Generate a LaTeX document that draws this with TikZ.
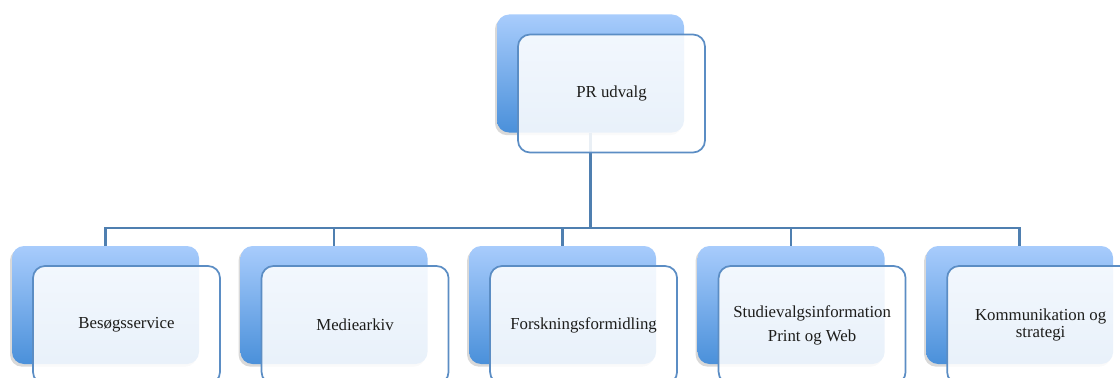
\documentclass[tikz,border=0pt]{standalone}
\usepackage{fontspec}
\setmainfont{Liberation Serif}
\usepackage{tikz}
\usetikzlibrary{positioning,shadows}
\definecolor{colorboxtop}   {RGB}{168,204,252}
\definecolor{colorboxbottom}{RGB}{74 ,144,218}
\definecolor{colorborder}   {RGB}{91 ,141,196}
\definecolor{colorline}     {RGB}{79 ,127,176}
\definecolor{colortext}     {RGB}{29 ,29 ,27 }

\begin{document}
\begin{tikzpicture}[
    x=0.75pt, y=-0.75pt,
    node distance = 30.75pt,
    font={\fontsize{12.6}{13}\selectfont},
    back/.style={rectangle,rounded corners=9pt,minimum width=140.25pt,minimum height=88.5pt,
        top color=colorboxtop,bottom color=colorboxbottom,
        drop shadow={shadow xshift=-1.5pt,shadow yshift=-2pt,opacity=0.3}},
    front/.style={rectangle,rounded corners=9pt,minimum width=140.25pt,minimum height=88.5pt,
        draw=colorborder,line width=1.3pt,fill=white,fill opacity=0.88,
        text opacity=1,text=colortext,align=center},
    link/.style={draw=colorline,line width=1.8pt},
]
    \useasboundingbox (0,0) rectangle (1120,378);

    % Boxes
    \node[back] (prback) at (590.5,73.5) {};
    \node[back] (back1) at (105.5,305) {};
    \node[back,right=of back1] (back2) {};
    \node[back,right=of back2] (back3) {};
    \node[back,right=of back3] (back4) {};
    \node[back,right=of back4] (back5) {};

    % Lines
    \coordinate (bus) at (590.5,228);
    \draw[link] (prback.south) -- (bus);
    \draw[link] (bus) -| (back1.north);
    \draw[link] (bus) -| (back2.north);
    \draw[link] (bus) -| (back3.north);
    \draw[link] (bus) -| (back4.north);
    \draw[link] (bus) -| (back5.north);

    % Text
    \node[front] (pr)     at ([xshift=15.75pt,yshift=-15pt]prback.center) {PR udvalg};
    \node[front] (besog)  at ([xshift=15.75pt,yshift=-15pt]back1.center)  {Besøgsservice};
    \node[front] (medie)  at ([xshift=15.75pt,yshift=-15pt]back2.center)  {Mediearkiv};
    \node[front] (forsk)  at ([xshift=15.75pt,yshift=-15pt]back3.center)  {Forskningsformidling};
    \node[front] (studie) at ([xshift=15.75pt,yshift=-15pt]back4.center)  {Studievalgsinformation\\[5pt] Print og Web};
    \node[front] (komm)   at ([xshift=15.75pt,yshift=-15pt]back5.center)  {Kommunikation og\\ strategi};

\end{tikzpicture}
\end{document}
